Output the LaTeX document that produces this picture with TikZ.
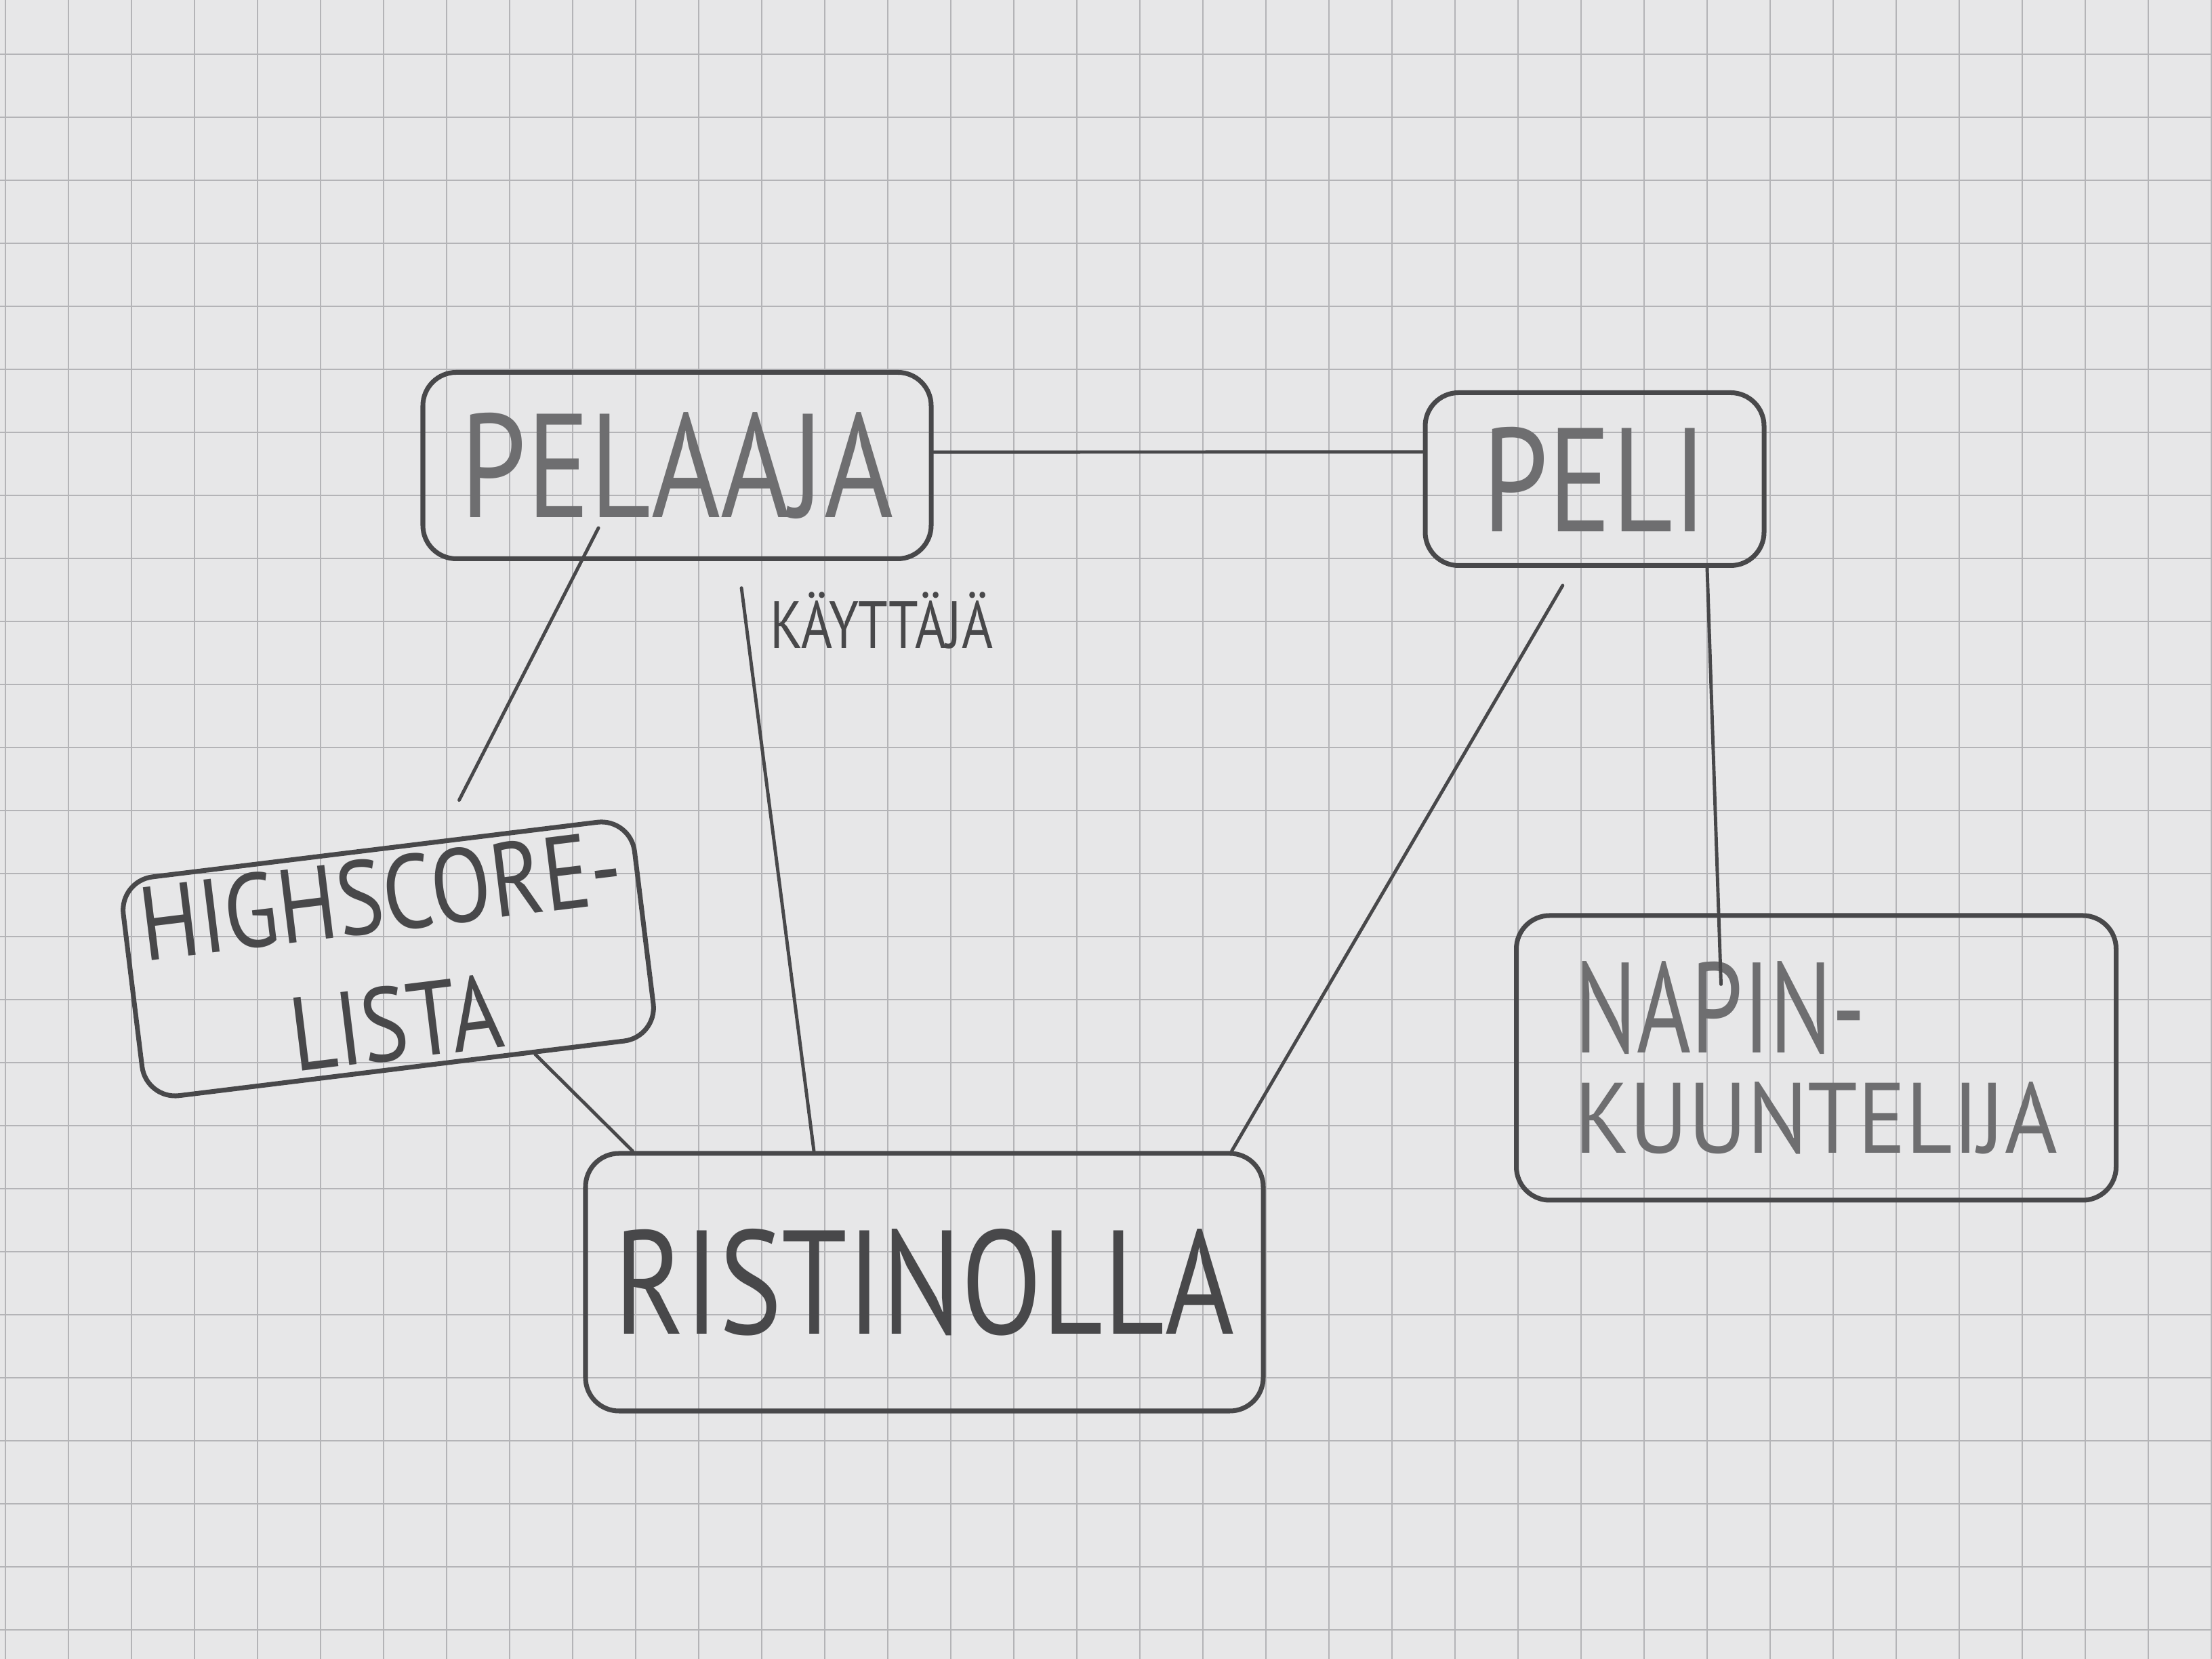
\documentclass[tikz,border=0pt]{standalone}
\usepackage{fontspec}
\setmainfont{PT Sans}
\usetikzlibrary{calc}
\definecolor{paperGrey}{RGB}{231,231,232}
\definecolor{paperGrid}{RGB}{180,180,183}
\definecolor{pencilDark}{RGB}{72,72,74}
\definecolor{pencilSoft}{RGB}{110,110,112}
\newcommand{\handtext}[2][0.8]{\scalebox{#1}[1]{#2}}
\tikzset{
  sketchbox/.style={draw=pencilDark, line width=2pt, rounded corners=14pt,
    text=pencilSoft, font=\fontsize{62}{70}\selectfont, align=center},
  sketchlink/.style={draw=pencilDark, line width=1.4pt, line cap=round},
}

\begin{document}
\begin{tikzpicture}
  \fill[paperGrey] (0,0) rectangle (32.64,24.48);
  \useasboundingbox (0,0) rectangle (32.64,24.48);
  \begin{scope}
    \clip (0,0) rectangle (32.64,24.48);
    \draw[paperGrid, line width=0.7pt, step=0.93, shift={(0.08,0.43)}] (-1,-1) grid (34,26);
  \end{scope}

  \node[sketchbox, minimum width=7.5cm, minimum height=2.75cm] (pelaaja) at (9.99,17.61) {\handtext{PELAAJA}};
  \node[sketchbox, minimum width=5cm, minimum height=2.55cm] (peli) at (23.53,17.41) {\handtext{PELI}};
  \node[sketchbox, rotate=7, minimum width=7.6cm, minimum height=2.9cm,
    font=\fontsize{44}{54}\selectfont, text=pencilDark] (highscore) at (5.73,10.33)
    {\handtext[0.84]{HIGHSCORE-}\\\handtext[0.84]{LISTA}};
  \node[sketchbox, minimum width=10cm, minimum height=3.8cm, text=pencilDark] (ristinolla) at (13.64,5.56) {\handtext{RISTINOLLA}};
  \node[sketchbox, minimum width=8.85cm, minimum height=4.2cm, align=left,
    font=\fontsize{54}{42}\selectfont] (napin) at (26.80,8.87)
    {\handtext[0.72]{NAPIN-}\\\fontsize{42}{42}\selectfont\handtext[0.9]{KUUNTELIJA}};
  \node[text=pencilDark, font=\fontsize{28}{30}\selectfont] (kayttaja) at (13.01,15.32) {\handtext{KÄYTTÄJÄ}};

  \draw[sketchlink] (pelaaja.3) -- (peli.171);
  \draw[sketchlink, shorten <=-0.55cm, shorten >=0.65cm] (pelaaja.-135) -- (highscore.60);
  \draw[sketchlink, shorten <=0.4cm] ([xshift=0.9cm]pelaaja.south) -- ([xshift=-1.63cm]ristinolla.north);
  \draw[sketchlink] (highscore.-40) -- ([xshift=0.73cm]ristinolla.north west);
  \draw[sketchlink, shorten <=0.3cm] ([xshift=-0.32cm]peli.south) -- ([xshift=-0.5cm]ristinolla.north east);
  \draw[sketchlink, shorten >=-1.05cm] ([xshift=1.66cm]peli.south) -- ([xshift=-1.44cm]napin.north);
\end{tikzpicture}
\end{document}
